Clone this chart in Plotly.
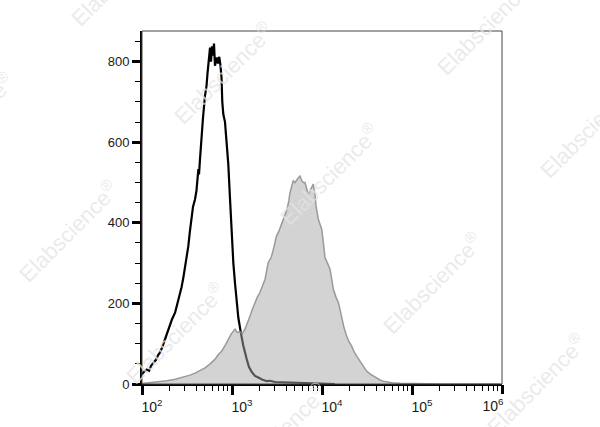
import plotly.graph_objects as go

# Unstained control (black outline)
control_x = [100,105,113,120,126,134,143,151,158,167,180,190,205,215,233,245,264,275,288,301,312,327,341,357,369,388,403,423,430,441,453,461,476,501,521,534,546,558,570,584,600,615,631,647,676,699,722,745,765,780,800,836,869,910,950,993,1035,1080,1130,1175,1259,1336,1456,1545,1655,1802,1960,2154,2432,2643,3004,3881,5012,7356,10800,13900]
control_y = [24,30,36,33,45,53,60,72,78,90,111,125,144,160,177,195,227,240,264,290,320,342,380,417,440,458,480,533,520,558,600,640,660,715,740,770,789,810,835,800,838,815,845,790,810,795,812,790,760,700,670,650,610,545,460,370,300,250,205,165,125,95,62,42,30,20,16,11,7,8,5,4,3,2,1,0]

# Stained sample (grey filled)
stained_x = [100,123,151,188,233,288,341,388,441,501,570,645,699,770,836,905,985,1080,1145,1227,1300,1394,1480,1585,1680,1800,1905,2040,2185,2330,2520,2730,2880,3120,3330,3560,3800,4080,4280,4410,4600,4790,5012,5236,5458,5698,5944,6196,6471,6755,7048,7356,7690,8000,8360,8590,9100,9500,9930,10360,10800,11500,12280,12830,13380,14330,15210,15850,16560,17550,18790,19950,21380,22700,24300,25800,27640,29300,31390,34150,37130,40340,44080,47960,52320,59950,73560,108000,204500,950000]
stained_y = [1,3,5,8,12,17,22,27,33,40,50,61,72,82,95,111,125,136,128,130,125,136,150,169,185,202,215,227,245,260,301,315,334,367,380,396,415,433,455,475,490,504,500,508,512,516,505,500,500,485,471,480,490,496,470,442,409,395,384,350,314,300,285,260,235,215,202,185,161,140,119,105,94,80,69,60,53,42,32,25,20,14,10,7,5,3,2,1,0,0]

x_major = [1e2, 1e3, 1e4, 1e5]
x_major_text = ["10<sup>2</sup>", "10<sup>3</sup>", "10<sup>4</sup>", "10<sup>5</sup>"]
x_last = [1e6]
x_last_text = ["10<sup>6</sup>"]
x_minor = [k * 10 ** d for d in range(2, 6) for k in range(2, 10)]
y_major = [0, 200, 400, 600, 800]

watermark = "Elabscience<sup>®</sup>"
watermark_px = [(120, -25), (223, 73), (486, 24), (-36, 123), (329, 174), (589, 127),
                (68, 231), (175, 333), (432, 283), (277, 434), (536, 384)]

W, H = 600, 427
ML, MR, MT, MB = 142, 98, 31, 43
PW, PH = W - ML - MR, H - MT - MB

fig = go.Figure()
fig.add_trace(go.Scatter(x=control_x, y=control_y, mode="lines",
                         line=dict(color="black", width=2.2), hoverinfo="skip"))
fig.add_trace(go.Scatter(x=stained_x, y=stained_y, mode="lines", xaxis="x2",
                         fill="tozeroy", fillcolor="rgba(168,168,168,0.5)",
                         line=dict(color="rgba(140,140,140,0.85)", width=1.5),
                         hoverinfo="skip"))

font = dict(family="Arial, Liberation Sans, sans-serif", size=13, color="#1a1a1a")

fig.update_layout(
    width=W, height=H,
    margin=dict(l=ML, r=MR, t=MT, b=MB),
    paper_bgcolor="white", plot_bgcolor="white",
    showlegend=False,
    font=font,
    xaxis=dict(type="log", range=[2, 6], showgrid=False, zeroline=False,
               showline=True, linecolor="black", linewidth=2,
               tickmode="array", tickvals=x_major, ticktext=x_major_text,
               ticks="outside", ticklen=9, tickwidth=2.5, tickcolor="black",
               ticklabelshift=10, tickfont=dict(size=14),
               minor=dict(tickmode="array", tickvals=x_minor, ticks="outside",
                          ticklen=5, tickwidth=1.2, tickcolor="black")),
    xaxis2=dict(type="log", range=[2, 6], overlaying="x", side="bottom",
                showgrid=False, zeroline=False, showline=False,
                tickmode="array", tickvals=x_last, ticktext=x_last_text,
                ticks="outside", ticklen=9, tickwidth=2.5, tickcolor="black",
                ticklabelshift=-9, tickfont=dict(size=14)),
    yaxis=dict(range=[0, 876], showgrid=False, zeroline=False,
               showline=True, linecolor="black", linewidth=2,
               tickmode="array", tickvals=y_major,
               ticks="outside", ticklen=8, tickwidth=2.5, tickcolor="black",
               minor=dict(dtick=50, tick0=0, ticks="outside", ticklen=5,
                          tickwidth=1.2, tickcolor="black")),
    shapes=[dict(type="rect", xref="paper", yref="paper", x0=0, x1=1, y0=0, y1=1,
                 line=dict(color="#444", width=1), layer="above")],
)

for px, py in watermark_px:
    fig.add_annotation(text=watermark, xref="paper", yref="paper",
                       x=(px - ML) / PW, y=(H - MB - py) / PH,
                       xanchor="center", yanchor="middle", showarrow=False,
                       textangle=-45,
                       font=dict(family="Arial, Liberation Sans, sans-serif",
                                 size=22, color="rgba(228,228,228,0.75)"))

fig.write_html("out.html", config={"displayModeBar": False},
               post_script="document.body.style.margin='0';document.body.style.padding='0';")
